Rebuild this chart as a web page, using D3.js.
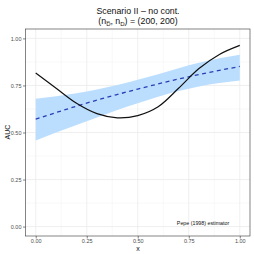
<!DOCTYPE html>
<html><head><meta charset="utf-8">
<script src="https://cdn.jsdelivr.net/npm/d3@7"></script>
<style>body{margin:0;background:#fff}svg{display:block}text{font-family:"Liberation Sans",Arial,sans-serif}</style>
</head><body>
<svg id="c" width="254" height="254"></svg>
<script>
const xs = [0, 0.1, 0.2, 0.3, 0.4, 0.5, 0.6, 0.7, 0.8, 0.9, 1.0];
const trueAUC = [0.816, 0.735, 0.655, 0.600, 0.578, 0.590, 0.637, 0.735, 0.840, 0.915, 0.963];
const estAUC = [0.571, 0.606, 0.640, 0.672, 0.702, 0.731, 0.758, 0.784, 0.808, 0.830, 0.851];
const upper = [0.679, 0.693, 0.708, 0.728, 0.752, 0.780, 0.810, 0.842, 0.870, 0.894, 0.913];
const lower = [0.457, 0.500, 0.540, 0.580, 0.620, 0.656, 0.690, 0.720, 0.745, 0.763, 0.776];
const xTicks = [0, 0.25, 0.5, 0.75, 1];
const yTicks = [0, 0.25, 0.5, 0.75, 1];
const xMinor = [0.125, 0.375, 0.625, 0.875];
const yMinor = [0.125, 0.375, 0.625, 0.875];

const svg = d3.select("#c");
const L = 25.5, R = 250, T = 29, B = 236;
const x = d3.scaleLinear().domain([-0.05, 1.05]).range([L, R]);
const y = d3.scaleLinear().domain([-0.05, 1.05]).range([B, T]);

const g = svg.append("g");
// grid
g.selectAll(".vmin").data(xMinor).join("line").attr("x1", d => x(d)).attr("x2", d => x(d)).attr("y1", T).attr("y2", B).attr("stroke", "#f0f0f0").attr("stroke-width", 0.5);
g.selectAll(".hmin").data(yMinor).join("line").attr("y1", d => y(d)).attr("y2", d => y(d)).attr("x1", L).attr("x2", R).attr("stroke", "#f0f0f0").attr("stroke-width", 0.5);
g.selectAll(".vmaj").data(xTicks).join("line").attr("x1", d => x(d)).attr("x2", d => x(d)).attr("y1", T).attr("y2", B).attr("stroke", "#ebebeb").attr("stroke-width", 0.8);
g.selectAll(".hmaj").data(yTicks).join("line").attr("y1", d => y(d)).attr("y2", d => y(d)).attr("x1", L).attr("x2", R).attr("stroke", "#ebebeb").attr("stroke-width", 0.8);

const pts = xs.map((v, i) => ({x: v, t: trueAUC[i], e: estAUC[i], u: upper[i], l: lower[i]}));
const area = d3.area().x(d => x(d.x)).y0(d => y(d.l)).y1(d => y(d.u)).curve(d3.curveMonotoneX);
g.append("path").datum(pts).attr("d", area).attr("fill", "#bbdeff");
g.append("path").datum(pts).attr("d", d3.line().x(d => x(d.x)).y(d => y(d.e)).curve(d3.curveMonotoneX))
  .attr("fill", "none").attr("stroke", "#2b3db5").attr("stroke-width", 1.3).attr("stroke-dasharray", "4,3.5");
g.append("path").datum(pts).attr("d", d3.line().x(d => x(d.x)).y(d => y(d.t)).curve(d3.curveCatmullRom))
  .attr("fill", "none").attr("stroke", "#111").attr("stroke-width", 1.2);

// annotation
g.append("text").attr("x", x(0.82)).attr("y", y(0.0) - 1.5).attr("text-anchor", "middle").attr("font-size", 5.3).attr("fill", "#111").text("Pepe (1998) estimator");

// border
g.append("rect").attr("x", L).attr("y", T).attr("width", R - L).attr("height", B - T).attr("fill", "none").attr("stroke", "#333").attr("stroke-width", 0.6);

// axes
const xAxis = d3.axisBottom(x).tickValues(xTicks).tickFormat(d3.format(".2f")).tickSize(2.5).tickPadding(1);
const yAxis = d3.axisLeft(y).tickValues(yTicks).tickFormat(d3.format(".2f")).tickSize(2.5).tickPadding(1.5);
const ax = svg.append("g").attr("transform", `translate(0,${B})`).call(xAxis);
const ay = svg.append("g").attr("transform", `translate(${L},0)`).call(yAxis);
[ax, ay].forEach(a => {
  a.select(".domain").remove();
  a.selectAll(".tick line").attr("stroke", "#333").attr("stroke-width", 0.6);
  a.selectAll(".tick text").attr("font-size", 5.5).attr("fill", "#4d4d4d").attr("font-family", "Liberation Sans, Arial, sans-serif");
});

// titles
svg.append("text").attr("x", 138).attr("y", 251).attr("text-anchor", "middle").attr("font-size", 7).attr("fill", "#111").text("x");
svg.append("text").attr("transform", "translate(9.5,132) rotate(-90)").attr("text-anchor", "middle").attr("font-size", 7).attr("fill", "#111").text("AUC");
svg.append("text").attr("x", 138).attr("y", 13.5).attr("text-anchor", "middle").attr("font-size", 8.8).attr("fill", "#111").text("Scenario II – no cont.");
const sub = svg.append("text").attr("x", 138).attr("y", 24).attr("text-anchor", "middle").attr("font-size", 8.8).attr("fill", "#111");
sub.append("tspan").text("(n");
sub.append("tspan").attr("font-size", 6).attr("dy", 1.8).text("D\u0305");
sub.append("tspan").attr("dy", -1.8).text(", n");
sub.append("tspan").attr("font-size", 6).attr("dy", 1.8).text("D");
sub.append("tspan").attr("dy", -1.8).text(") = (200, 200)");
</script>
</body></html>
